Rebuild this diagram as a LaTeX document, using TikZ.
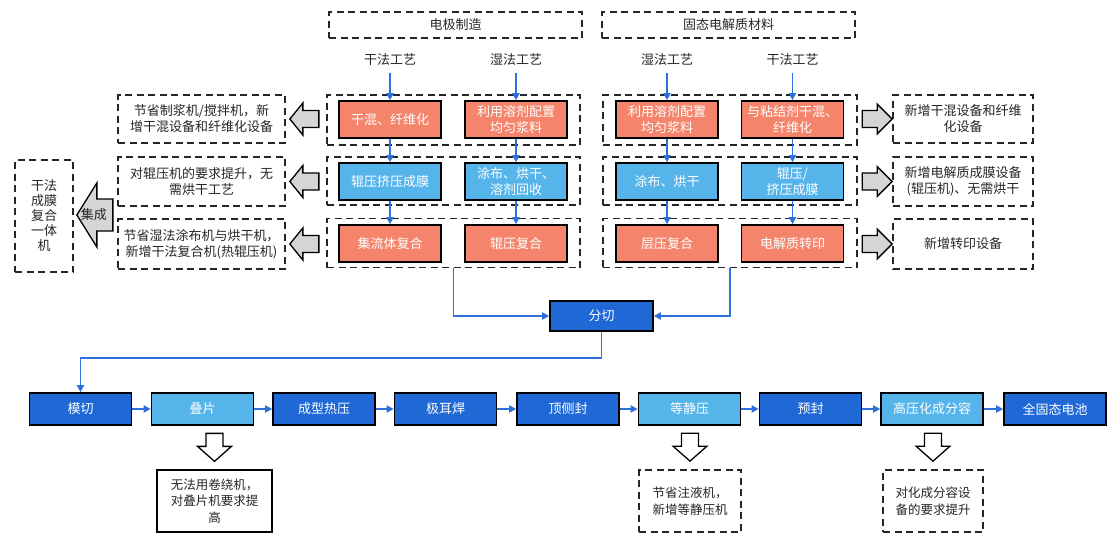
\documentclass[tikz,border=0pt]{standalone}
\usepackage{fontspec}
\setmainfont{Noto Sans CJK SC}
\usetikzlibrary{arrows.meta,calc}
\definecolor{salmon}{HTML}{F4856C}
\definecolor{skyb}{HTML}{55B4EA}
\definecolor{deepb}{HTML}{1F68D6}
\definecolor{lineb}{HTML}{2D70D9}
\definecolor{txt}{HTML}{262626}
\definecolor{arrgray}{HTML}{D5D5D5}
\tikzset{
  dbox/.style={draw=black!85, line width=1.7pt, dash pattern=on 7pt off 4.5pt,
    inner sep=0pt, text=txt, align=center},
  pbox/.style={draw=black, line width=1.6pt, inner sep=0pt, minimum width=102pt,
    minimum height=37pt, text=white, align=center},
  hot/.style={pbox, fill=salmon},
  cool/.style={pbox, fill=skyb},
  stage/.style={pbox, fill=deepb, minimum height=32pt},
  stagel/.style={stage, fill=skyb},
  lab/.style={text=txt, inner sep=1pt},
  flow/.style={draw=lineb, line width=1.8pt, -{Triangle[length=7pt,width=7pt]}},
  garrow/.style={draw=black, fill=arrgray, line width=1.3pt, line join=miter},
  warrow/.style={draw=black, fill=white, line width=1.3pt, line join=miter},
  pics/larrow/.style={code={
    \path[pic actions] (0,0) -- (13,-16) -- (13,-8.5) -- (29,-8.5) -- (29,8.5)
      -- (13,8.5) -- (13,16) -- cycle;}},
  pics/rarrow/.style={code={
    \path[pic actions] (0,0) -- (-15,-15) -- (-15,-8.5) -- (-30,-8.5) -- (-30,8.5)
      -- (-15,8.5) -- (-15,15) -- cycle;}},
  pics/darrow/.style={code={
    \path[pic actions] (0,0) -- (-17,-15) -- (-8.5,-15) -- (-8.5,-28) -- (8.5,-28)
      -- (8.5,-15) -- (17,-15) -- cycle;}},
}
\begin{document}
\begin{tikzpicture}[x=1pt,y=-1pt,font=\fontsize{13}{16}\selectfont]
\useasboundingbox[fill=white] (0,0) rectangle (1112,533);

% ---- headers ----
\node[dbox, minimum width=253pt, minimum height=26pt] (hE) at (455.5,25) {电极制造};
\node[dbox, minimum width=253pt, minimum height=26pt] (hS) at (728.5,25) {固态电解质材料};

\node[lab] (lE1) at (390,60) {干法工艺};
\node[lab] (lE2) at (516,60) {湿法工艺};
\node[lab] (lS1) at (667,60) {湿法工艺};
\node[lab] (lS2) at (792.5,60) {干法工艺};

% ---- dashed stage groups ----
\node[dbox, minimum width=253pt, minimum height=50pt] (gE1) at (453.5,120) {};
\node[dbox, minimum width=253pt, minimum height=48pt] (gE2) at (453.5,181) {};
\node[dbox, minimum width=253pt, minimum height=49pt] (gE3) at (453.5,243) {};
\node[dbox, minimum width=254pt, minimum height=50pt] (gS1) at (730,120) {};
\node[dbox, minimum width=254pt, minimum height=48pt] (gS2) at (730,181) {};
\node[dbox, minimum width=254pt, minimum height=49pt] (gS3) at (730,243) {};

% ---- electrode process boxes ----
\node[hot]  (eA1) at (390,119.5) {干混、纤维化};
\node[cool] (eA2) at (390,181.5) {辊压挤压成膜};
\node[hot]  (eA3) at (390,243.5) {集流体复合};
\node[hot]  (eB1) at (516,119.5) {利用溶剂配置\\均匀浆料};
\node[cool] (eB2) at (516,181.5) {涂布、烘干、\\溶剂回收};
\node[hot]  (eB3) at (516,243.5) {辊压复合};

% ---- electrolyte process boxes ----
\node[hot]  (sA1) at (667,119.5) {利用溶剂配置\\均匀浆料};
\node[cool] (sA2) at (667,181.5) {涂布、烘干};
\node[hot]  (sA3) at (667,243.5) {层压复合};
\node[hot]  (sB1) at (792.5,119.5) {与粘结剂干混、\\纤维化};
\node[cool] (sB2) at (792.5,181.5) {辊压/\\挤压成膜};
\node[hot]  (sB3) at (792.5,243.5) {电解质转印};

\foreach \l/\a/\b/\c in {lE1/eA1/eA2/eA3, lE2/eB1/eB2/eB3, lS1/sA1/sA2/sA3, lS2/sB1/sB2/sB3}{
  \draw[flow, shorten <=6pt] (\l) -- (\a);
  \draw[flow] (\a) -- (\b);
  \draw[flow] (\b) -- (\c);
}

% ---- equipment notes, left ----
\node[dbox, minimum width=167pt, minimum height=48pt] (nL1) at (201.5,119)
  {节省制浆机/搅拌机，新\\增干混设备和纤维化设备};
\node[dbox, minimum width=167pt, minimum height=49pt] (nL2) at (201.5,181.5)
  {对辊压机的要求提升，无\\需烘干工艺};
\node[dbox, minimum width=167pt, minimum height=50pt] (nL3) at (201.5,244)
  {节省湿法涂布机与烘干机，\\新增干法复合机(热辊压机)};
\foreach \n in {nL1,nL2,nL3}{
  \pic[garrow] at ($(\n.east)+(4,0)$) {larrow};
}

% ---- equipment notes, right ----
\node[dbox, minimum width=140pt, minimum height=48pt] (nR1) at (963,119)
  {新增干混设备和纤维\\化设备};
\node[dbox, minimum width=140pt, minimum height=49pt] (nR2) at (963,181.5)
  {新增电解质成膜设备\\(辊压机)、无需烘干};
\node[dbox, minimum width=140pt, minimum height=50pt] (nR3) at (963,244)
  {新增转印设备};
\foreach \n in {nR1,nR2,nR3}{
  \pic[garrow] at (\n.west) {rarrow};
}

% ---- integrated machine ----
\node[dbox, minimum width=58pt, minimum height=112pt, font=\fontsize{13}{15}\selectfont]
  (yt) at (44,216) {干法\\成膜\\复合\\一体\\机};
\draw[garrow] ($(yt.east)+(3,-1)$) -- ++(20,-32) -- ++(0,16) -- ++(16,0) -- ++(0,32)
  -- ++(-16,0) -- ++(0,16) -- cycle;
\node[text=txt, inner sep=0pt] (jc) at ($(yt.east)+(20,-1)$) {集成};

% ---- cell assembly line ----
\node[stage, minimum width=103pt, minimum height=30pt] (fq) at (601.5,316) {分切};
\node[stage]  (s1) at (80.5,409)  {模切};
\node[stagel] (s2) at (202.5,409) {叠片};
\node[stage]  (s3) at (324,409)   {成型热压};
\node[stage]  (s4) at (445.5,409) {极耳焊};
\node[stage]  (s5) at (568,409)   {顶侧封};
\node[stagel] (s6) at (689.5,409) {等静压};
\node[stage]  (s7) at (810.5,409) {预封};
\node[stagel] (s8) at (932,409)   {高压化成分容};
\node[stage]  (s9) at (1055,409)  {全固态电池};

\draw[flow] (gE3.south) |- (fq.west);
\draw[flow] (gS3.south) |- (fq.east);
\draw[flow] (fq.south) -- ++(0,26) -| (s1.north);
\foreach \a/\b in {s1/s2,s2/s3,s3/s4,s4/s5,s5/s6,s6/s7,s7/s8,s8/s9}{
  \draw[flow] (\a) -- (\b);
}

% ---- assembly notes ----
\node[draw=black, line width=1.3pt, minimum width=115pt, minimum height=62pt, inner sep=0pt,
  align=center, text=txt, font=\fontsize{12.5}{16.5}\selectfont] (b1) at (214.5,501)
  {无法用卷绕机，\\对叠片机要求提\\高};
\node[dbox, minimum width=102pt, minimum height=62pt, font=\fontsize{12.5}{16.5}\selectfont]
  (b2) at (690,501) {节省注液机，\\新增等静压机};
\node[dbox, minimum width=100pt, minimum height=62pt, font=\fontsize{12.5}{16.5}\selectfont]
  (b3) at (933,501) {对化成分容设\\备的要求提升};
\foreach \n in {b1,b2,b3}{
  \pic[warrow] at ($(\n.north)+(0,-8)$) {darrow};
}
\end{tikzpicture}
\end{document}
